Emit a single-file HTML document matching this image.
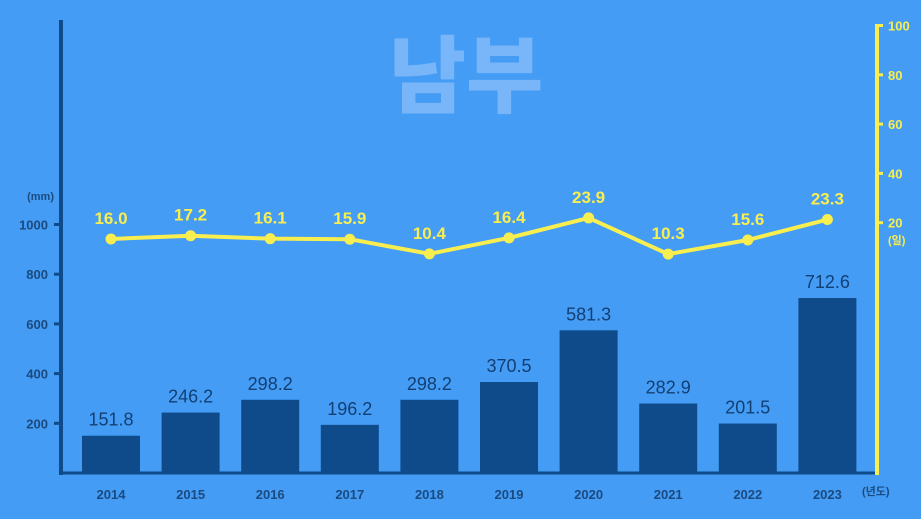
<!DOCTYPE html>
<html><head><meta charset="utf-8"><style>
body{margin:0;background:#449cf4;}
svg{display:block;font-family:"Liberation Sans","Noto Sans CJK KR",sans-serif;}
</style></head><body>
<svg id="c" width="921" height="519" viewBox="0 0 921 519">
<rect width="921" height="519" fill="#449cf4"/>
<text x="466" y="106" text-anchor="middle" font-size="84" font-weight="900" fill="#78b6f9" font-family="'Noto Sans CJK KR',sans-serif">남부</text>
<g id="g"></g>
</svg>
<script>
const years=["2014","2015","2016","2017","2018","2019","2020","2021","2022","2023"];
const rainfall=[151.8,246.2,298.2,196.2,298.2,370.5,581.3,282.9,201.5,712.6];
const rainDays=[16.0,17.2,16.1,15.9,10.4,16.4,23.9,10.3,15.6,23.3];
const leftTicks=[200,400,600,800,1000];
const rightTicks=[20,40,60,80,100];
const NS="http://www.w3.org/2000/svg";
const g=document.getElementById('g');
function mk(t,a,txt){const e=document.createElementNS(NS,t);for(const k in a)e.setAttribute(k,a[k]);if(txt!=null)e.textContent=txt;g.appendChild(e);return e;}
const xC=i=>111+i*79.6;
const yL=v=>473-v*0.2485;
const yB=v=>473-v*0.2455;
const yR=v=>272-v*2.465;
const yLine=v=>281.5-v*2.66;
let e=mk('line',{x1:61,y1:20,x2:61,y2:475,stroke:'#0f4a8a','stroke-width':4});


e=mk('line',{x1:59,y1:473,x2:876,y2:473,stroke:'#0f4a8a','stroke-width':3});


leftTicks.forEach(v=>{
 let t=mk('line',{x1:54,x2:61,y1:yL(v),y2:yL(v),stroke:'#0f4a8a','stroke-width':3});
 
 
 t=mk('text',{x:48,y:yL(v)+5,'text-anchor':'end','font-size':13,'font-weight':'bold',fill:'#1a4a80'},v);
 
 
});
e=mk('text',{x:54,y:200,'text-anchor':'end','font-size':11,'font-weight':'bold',fill:'#1a4a80'},'(mm)');


e=mk('line',{x1:877,y1:24,x2:877,y2:475,stroke:'#f8ee50','stroke-width':4});


rightTicks.forEach(v=>{
 let t=mk('line',{x1:877,x2:883,y1:yR(v),y2:yR(v),stroke:'#f8ee50','stroke-width':3});
 
 
 t=mk('text',{x:888,y:yR(v)+5,'font-size':13,'font-weight':'bold',fill:'#f8ee50'},v);
 
 
});
e=mk('text',{x:888,y:244,'font-size':11,'font-weight':'bold',fill:'#f8ee50'},'(일)');


years.forEach((y,i)=>{
 const v=rainfall[i];
 let b=mk('rect',{x:xC(i)-29,y:yB(v),width:58,height:473-yB(v),fill:'#0f4a8a'});
 
 
 let t=mk('text',{x:xC(i),y:yB(v)-10,'text-anchor':'middle','font-size':18,fill:'#123f74'},v.toFixed(1));
 
 
 t=mk('text',{x:xC(i),y:499,'text-anchor':'middle','font-size':13,'font-weight':'bold',fill:'#1a4a80'},y);
 
 
});
e=mk('text',{x:862,y:495,'font-size':11,'font-weight':'bold',fill:'#1a4a80'},'(년도)');


const pts=rainDays.map((v,i)=>xC(i)+','+yLine(v)).join(' ');
e=mk('polyline',{points:pts,fill:'none',stroke:'#f8ee50','stroke-width':4,'stroke-linejoin':'round'});


rainDays.forEach((v,i)=>{
 let c=mk('circle',{cx:xC(i),cy:yLine(v),r:5.5,fill:'#f8ee50'});
 
 
 let t=mk('text',{x:xC(i),y:yLine(v)-15,'text-anchor':'middle','font-size':17,'font-weight':'bold',fill:'#f8ee50'},v.toFixed(1));
 
 
});
</script>
</body></html>
